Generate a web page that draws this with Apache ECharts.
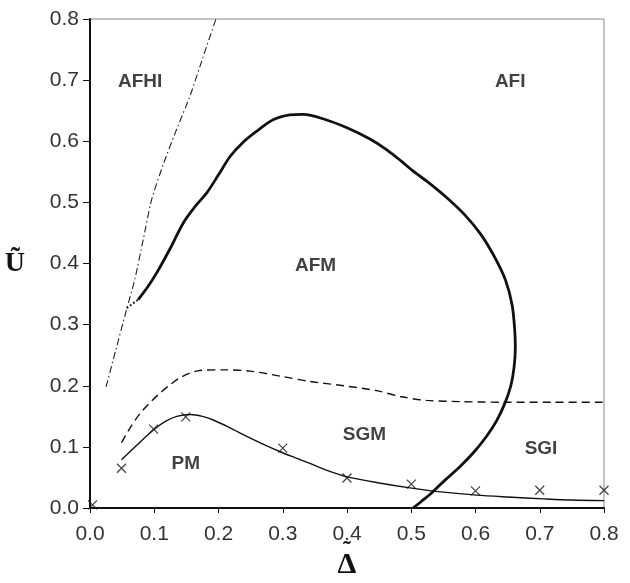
<!DOCTYPE html>
<html>
<head>
<meta charset="utf-8">
<script src="https://cdn.jsdelivr.net/npm/echarts@6/dist/echarts.min.js"></script>
<style>
  html, body { margin: 0; padding: 0; background: #fff; }
  #chart { width: 630px; height: 583px; }
</style>
</head>
<body>
<div id="chart"></div>
<script>
  // tick values of both axes
  var ticks = [0.0, 0.1, 0.2, 0.3, 0.4, 0.5, 0.6, 0.7, 0.8];

  // dash-dot boundary (AFHI / AFI)
  var afhiLine = [[0.025, 0.198], [0.040, 0.258], [0.057, 0.325], [0.070, 0.375], [0.083, 0.440],
                  [0.096, 0.505], [0.115, 0.565], [0.135, 0.620], [0.156, 0.675], [0.176, 0.738], [0.196, 0.800]];

  // short dotted piece joining the AFM curve to the dash-dot line
  var joinLine = [[0.057, 0.327], [0.075, 0.341]];

  // thick AFM boundary (not a function of x, points in drawing order)
  var afmLine = [[0.075, 0.341], [0.090, 0.362], [0.104, 0.385], [0.125, 0.425], [0.145, 0.466],
                 [0.165, 0.495], [0.182, 0.516], [0.200, 0.545], [0.218, 0.575], [0.238, 0.598],
                 [0.259, 0.616], [0.285, 0.635], [0.311, 0.643], [0.332, 0.644], [0.365, 0.636],
                 [0.400, 0.622], [0.435, 0.604], [0.462, 0.586], [0.485, 0.567], [0.503, 0.551],
                 [0.530, 0.530], [0.555, 0.508], [0.583, 0.480], [0.608, 0.448], [0.630, 0.410],
                 [0.647, 0.372], [0.657, 0.332], [0.661, 0.292], [0.662, 0.262], [0.660, 0.230],
                 [0.655, 0.200], [0.646, 0.172], [0.633, 0.143], [0.617, 0.117], [0.598, 0.092],
                 [0.576, 0.068], [0.553, 0.046], [0.532, 0.025], [0.516, 0.011], [0.503, 0.000]];

  // dashed boundary (magnetic / spin glass)
  var sgLine = [[0.049, 0.107], [0.063, 0.132], [0.078, 0.155], [0.094, 0.173], [0.109, 0.188],
                [0.125, 0.202], [0.140, 0.213], [0.156, 0.221], [0.171, 0.225], [0.207, 0.226],
                [0.249, 0.224], [0.300, 0.215], [0.342, 0.207], [0.395, 0.200], [0.446, 0.192],
                [0.485, 0.182], [0.524, 0.176], [0.580, 0.174], [0.643, 0.173], [0.720, 0.173], [0.800, 0.173]];

  // thin solid boundary (PM)
  var pmLine = [[0.049, 0.079], [0.074, 0.104], [0.099, 0.128], [0.118, 0.142], [0.135, 0.150],
                [0.156, 0.153], [0.175, 0.150], [0.192, 0.144], [0.218, 0.131], [0.244, 0.117],
                [0.270, 0.104], [0.296, 0.092], [0.320, 0.082], [0.342, 0.073], [0.370, 0.061],
                [0.400, 0.051], [0.450, 0.041], [0.498, 0.033], [0.550, 0.026], [0.602, 0.021],
                [0.650, 0.018], [0.706, 0.015], [0.750, 0.013], [0.800, 0.012]];

  // computed points (crosses)
  var crossPts = [[0.004, 0.005], [0.049, 0.065], [0.099, 0.129], [0.149, 0.149], [0.300, 0.098],
                  [0.400, 0.049], [0.500, 0.039], [0.600, 0.028], [0.700, 0.029], [0.800, 0.029]];

  // region names
  var regionNames = ['AFHI', 'AFI', 'AFM', 'SGM', 'SGI', 'PM'];
  var regionPos = [[0.078, 0.698], [0.654, 0.698], [0.351, 0.397], [0.427, 0.120], [0.702, 0.097], [0.149, 0.073]];

  var regions = regionNames.map(function (n, i) {
    return { name: n, value: regionPos[i] };
  });

  var axisFont = { fontFamily: 'Liberation Sans', fontSize: 21, color: '#333' };

  var chart = echarts.init(document.getElementById('chart'));
  chart.setOption({
    animation: false,
    backgroundColor: '#fff',
    grid: {
      left: 90, right: 26, top: 19, bottom: 75,
      outerBoundsMode: 'none',
      show: true, borderColor: '#888', borderWidth: 1
    },
    xAxis: {
      type: 'value', min: 0, max: 0.8, interval: 0.1,
      name: '{t|˜}\n{d|Δ}', nameLocation: 'middle', nameGap: 38, nameMoveOverlap: false,
      nameTextStyle: {
        rich: {
          t: { fontFamily: 'Liberation Serif', fontWeight: 'bold', fontSize: 24, lineHeight: 10, color: '#111', align: 'center' },
          d: { fontFamily: 'Liberation Serif', fontWeight: 'bold', fontSize: 30, lineHeight: 18, color: '#111', align: 'center' }
        }
      },
      axisLine: { show: true, onZero: false, lineStyle: { color: '#111', width: 2 } },
      axisTick: { show: true, length: 5, lineStyle: { color: '#111' } },
      axisLabel: Object.assign({ margin: 16, formatter: function (v) { return v.toFixed(1); } }, axisFont),
      splitLine: { show: false }
    },
    yAxis: {
      type: 'value', min: 0, max: 0.8, interval: 0.1,
      name: 'Ũ', nameLocation: 'middle', nameGap: 65, nameRotate: 0, nameMoveOverlap: false,
      nameTextStyle: { fontFamily: 'Liberation Serif', fontWeight: 'bold', fontSize: 28, color: '#111', padding: [0, 0, 16, 0] },
      axisLine: { show: true, onZero: false, lineStyle: { color: '#111', width: 2 } },
      axisTick: { show: true, length: 7, lineStyle: { color: '#111' } },
      axisLabel: Object.assign({ margin: 11, formatter: function (v) { return v.toFixed(1); } }, axisFont),
      splitLine: { show: false }
    },
    series: [
      {
        type: 'line', data: afhiLine, showSymbol: false, smooth: 0.2,
        lineStyle: { color: '#222', width: 1.1, type: [7, 3, 1.5, 3] }
      },
      {
        type: 'line', data: joinLine, showSymbol: false,
        lineStyle: { color: '#222', width: 2, type: 'dotted' }
      },
      {
        type: 'line', data: afmLine, showSymbol: false, smooth: 0.3,
        lineStyle: { color: '#111', width: 2.8 }
      },
      {
        type: 'line', data: sgLine, showSymbol: false, smooth: 0.3,
        lineStyle: { color: '#111', width: 1.4, type: [8, 5] }
      },
      {
        type: 'line', data: pmLine, showSymbol: false, smooth: 0.3,
        lineStyle: { color: '#111', width: 1.4 }
      },
      {
        type: 'scatter', data: crossPts,
        symbol: 'path://M0,0L10,10M10,0L0,10', symbolSize: 9,
        itemStyle: { color: 'transparent', borderColor: '#111', borderWidth: 1.2 }
      },
      {
        type: 'scatter', data: regions, symbolSize: 0,
        label: {
          show: true, position: 'inside', formatter: '{b}',
          fontFamily: 'Liberation Sans', fontWeight: 'bold', fontSize: 19, color: '#111'
        }
      }
    ]
  });
</script>
</body>
</html>
